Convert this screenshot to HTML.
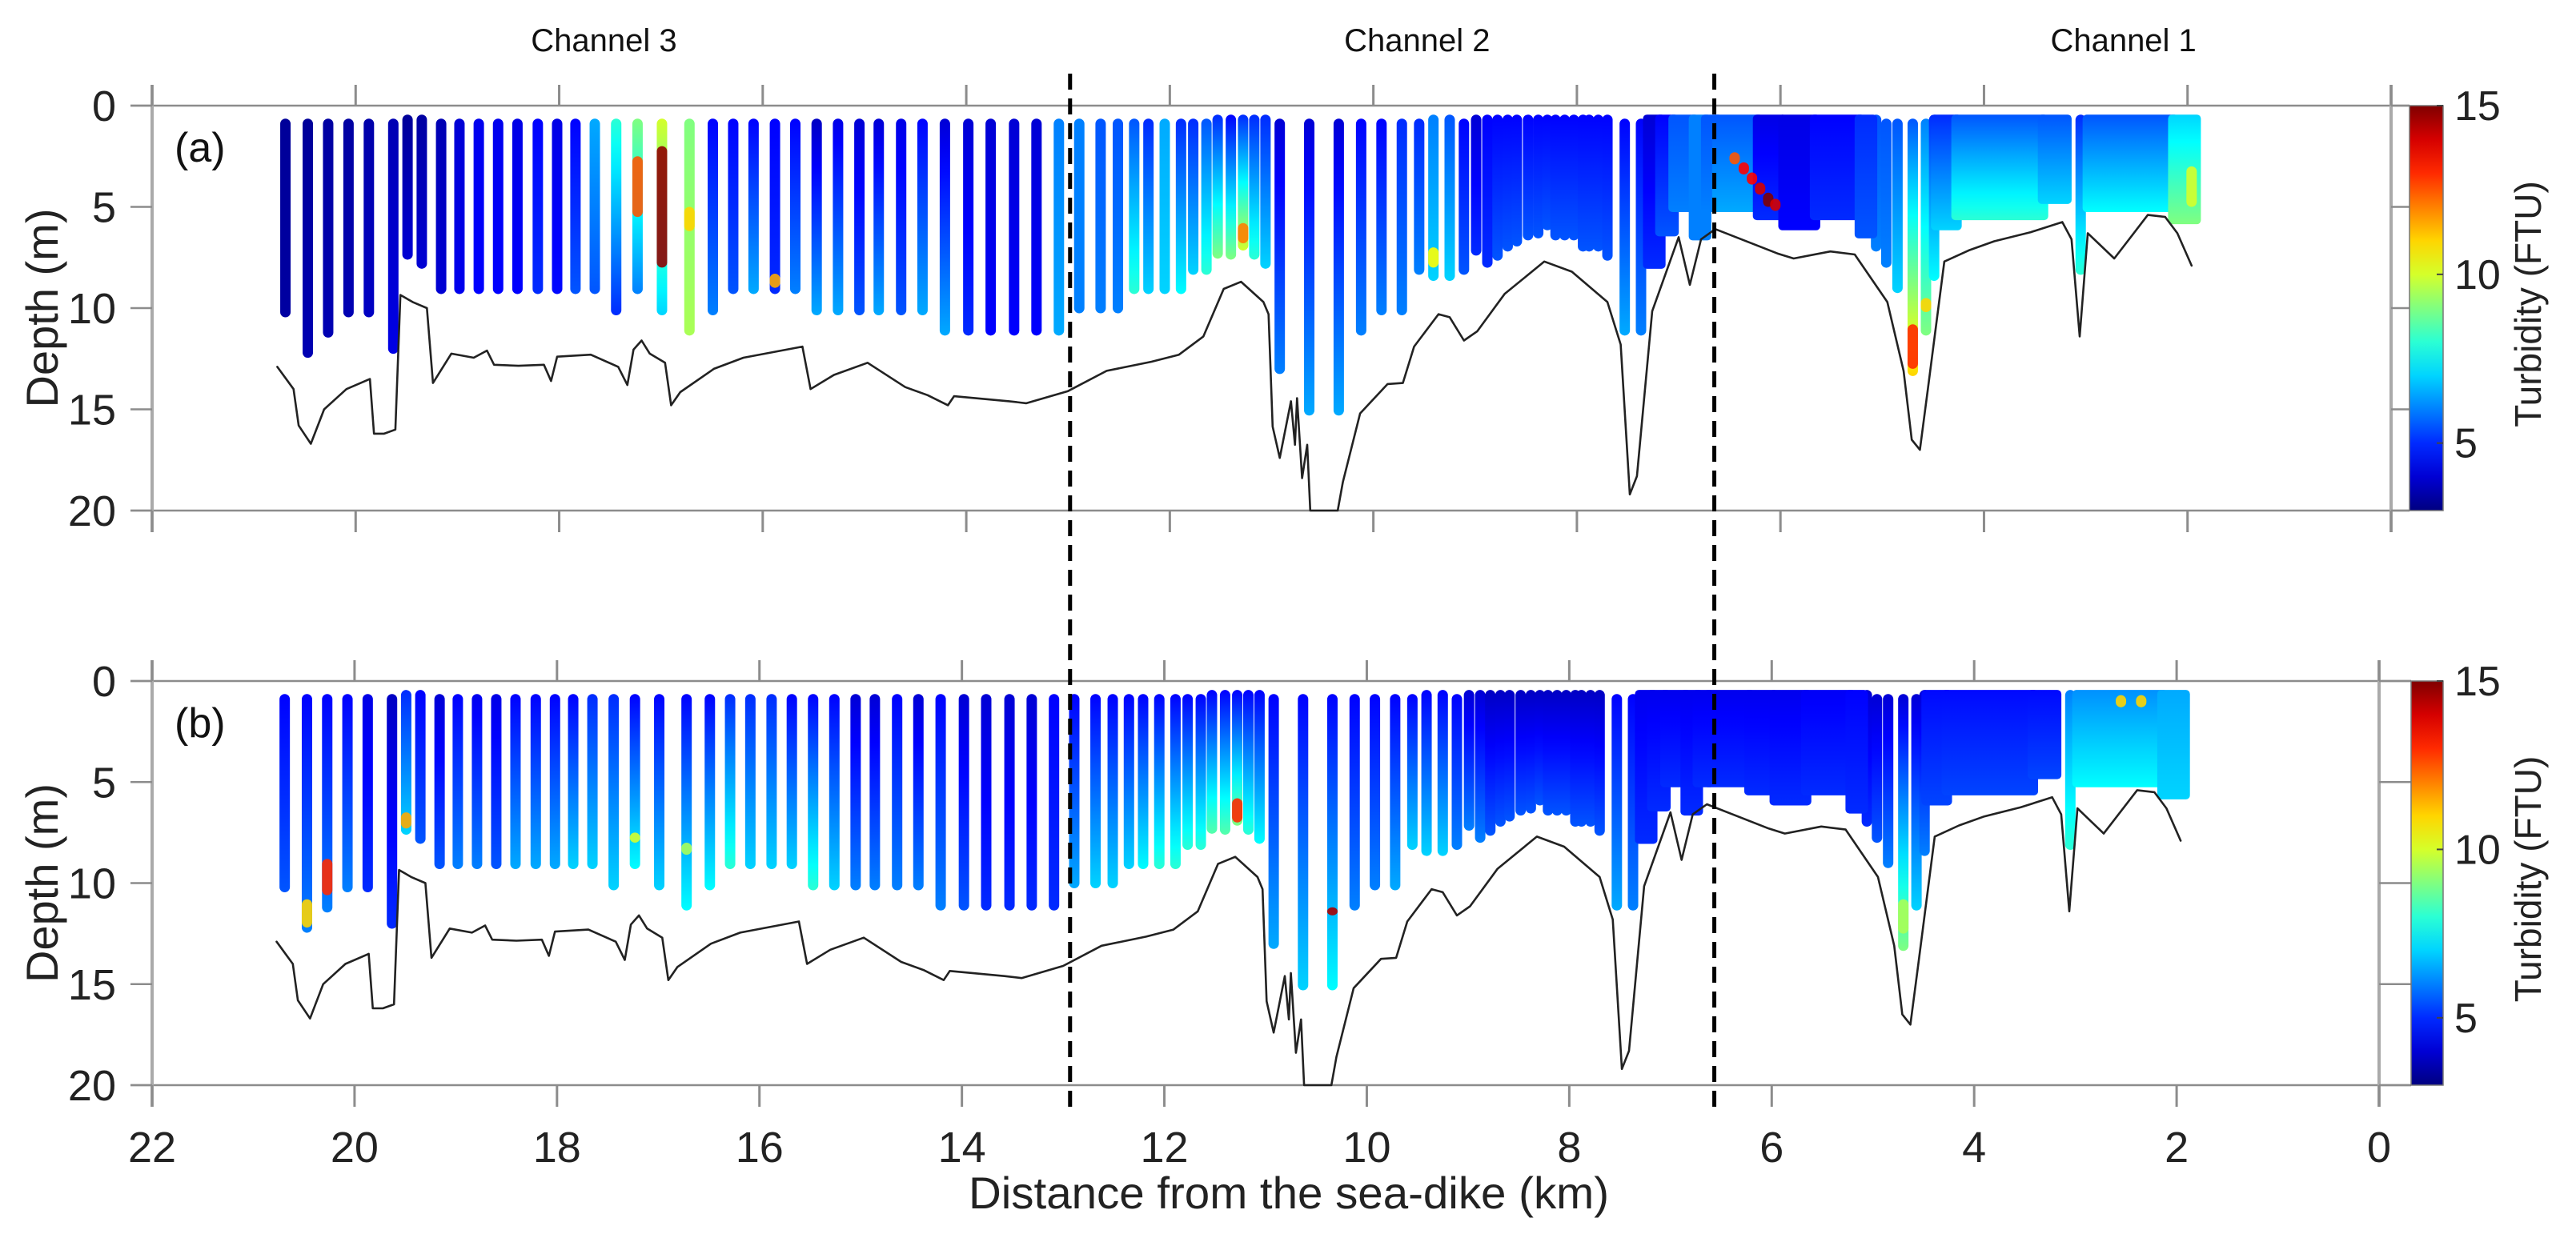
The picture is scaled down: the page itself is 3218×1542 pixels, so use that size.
<!DOCTYPE html>
<html><head><meta charset="utf-8"><style>
html,body{margin:0;padding:0;background:#fff;}
svg{display:block;font-family:"Liberation Sans",Arial,sans-serif;}
</style></head><body>
<svg id="fig" width="3218" height="1542" viewBox="0 0 3218 1542" xmlns="http://www.w3.org/2000/svg">
<defs id="defs"></defs>
<g id="root"></g>
</svg>
<script>
// ---------- DATA ----------
const colKm  = [20.69,20.47,20.27,20.07,19.87,19.63,19.49,19.35,19.16,18.98,18.79,18.60,18.41,18.21,18.02,17.84,17.65,17.44,17.23,16.99,16.72,16.49,16.29,16.09,15.88,15.68,15.47,15.26,15.05,14.86,14.64,14.43,14.21,13.98,13.76,13.53,13.31,13.09,
 12.89,12.68,12.51,12.35,12.21,12.05,11.89,11.77,11.64,11.53,11.40,11.28,11.17,11.06,10.92,10.63,10.34,10.12,9.92,9.72,9.55,9.41,9.25,9.11,8.99,8.88,8.78,8.68,8.59,8.48,8.38,8.29,8.21,8.12,8.03,7.94,7.88,7.79,7.70,7.53,7.37,
 5.06,4.96,4.85,4.70,4.57,4.49,3.05];
const colTop = [0.9,0.9,0.9,0.9,0.9,0.9,0.7,0.7,0.9,0.9,0.9,0.9,0.9,0.9,0.9,0.9,0.9,0.9,0.9,0.9,0.9,0.9,0.9,0.9,0.9,0.9,0.9,0.9,0.9,0.9,0.9,0.9,0.9,0.9,0.9,0.9,0.9,0.9,
 0.9,0.9,0.9,0.9,0.9,0.9,0.9,0.9,0.9,0.7,0.7,0.7,0.7,0.7,0.9,0.9,0.9,0.9,0.9,0.9,0.9,0.7,0.7,0.9,0.7,0.7,0.7,0.7,0.7,0.7,0.7,0.7,0.7,0.7,0.7,0.7,0.7,0.7,0.7,0.9,0.9,
 0.7,0.9,0.9,0.9,0.9,0.7,0.7];
const colBot = [10.2,12.2,11.2,10.2,10.2,12.0,7.35,7.8,9.05,9.05,9.05,9.05,9.05,9.05,9.05,9.05,9.05,10.1,9.05,10.1,11.1,10.1,9.05,9.05,9.05,9.05,10.1,10.1,10.1,10.1,10.1,10.1,11.1,11.1,11.1,11.1,11.1,11.1,
 10.0,10.0,10.0,9.05,9.05,9.05,9.05,8.1,8.1,7.3,7.35,6.9,7.35,7.8,13.0,15.05,15.05,11.1,10.1,10.1,8.1,8.4,8.4,8.1,7.15,7.75,7.4,6.95,6.7,6.4,6.3,5.9,6.4,6.4,6.4,6.95,6.95,6.95,7.4,11.1,11.1,
 6.95,7.75,9.0,13.1,11.1,8.4,8.1];
const turbATop = [3.3,3.3,3.4,3.4,3.5,3.6,3.3,3.4,3.6,4.0,4.3,4.3,4.2,4.5,4.2,4.5,6.5,8,9,10,9,4.5,4.5,4.5,4.5,4.5,3.8,4.2,4.0,4.0,4.2,4.5,4.0,4.0,4.0,4.0,4.0,6.0,
 6,5.5,5.5,5.5,5,6.5,5,5,5.5,5,4.5,5,5,5,4,4,4,4.5,4.5,5,5,6,5.5,4.5,4,4.5,4.5,4.5,4.5,4.5,4.5,4.5,4.5,4.5,4.5,4.5,4.5,4.5,4.5,4.5,4.5,
 5.5,5.5,5.5,5.5,6,5,5];
const turbABot = [3.4,3.6,3.6,3.6,3.8,4.2,4.0,4.0,4.0,4.3,4.5,4.5,4.5,5.0,4.6,5.5,5.5,5,6,7,9.5,6,5.5,6.5,5,6,6.5,6.5,5.5,6.5,5.5,6.5,6.5,5,4.5,4.5,4.5,6.5,
 6,6,6,8,7,7,7.5,7,8,9,9,10,8,7,6,6.5,6.5,6,6,6,6,7,7,5.5,5,5,5.5,5.5,5.5,5.5,5.5,5.5,5.5,5.5,5.5,5.5,5.5,5.5,5.5,6.5,6,
 6,6,7,11,9,7.5,8];
const turbBTop = [4.5,4.5,4.5,4.5,4.2,3.8,5,4.5,4,4.5,4.3,4.2,4.5,4.5,4.5,4.5,5,5,4.5,4.5,4.5,4.5,5,5,5,4.5,4.5,4.5,4,4,4.5,4,4.5,4,4,4,4,4.5,
 4.5,4.5,4.5,4.5,4.5,4.5,4.5,4.5,4.5,4.5,4.5,4.5,4.5,4.5,4.5,4.5,4.5,4.5,4.5,4.5,4.5,4.5,4.5,4.5,4,4,3.8,3.8,3.8,3.8,3.8,3.8,3.8,3.8,3.8,3.8,3.8,3.8,3.8,4.5,4.5,
 4,4,4,4,4,4,6];
const turbBBot = [5.5,6,6,6,5,5,7,5.5,5.5,6,6,5.5,6.5,6.5,6.5,7,7,7,7.5,7,7.5,7.5,8,7,7,7,8,7,6,6,6,6,6,5.5,5,5,5,5,
 6.5,7,7,7,7.5,8,8,8,8,8.5,8.5,9,8,7.5,6.5,7,7.5,6,6,6.5,7,7,7,6,6,6,5.5,5.5,5.5,5.5,5.5,5.5,5.5,5.5,5.5,5.5,5.5,5.5,5.5,6.5,6,
 5,5.5,6,9,7,6,8];
const blkStart = [7.30,7.18,7.05,6.85,6.73,6.62,6.22,5.97,5.66,5.22,4.47,4.27,3.42,2.98,2.14];
const blkEnd   = [7.18,7.05,6.85,6.73,6.62,6.22,5.99,5.66,5.22,5.10,4.27,3.42,3.19,2.14,1.92];
const blkBot   = [7.8,6.2,5.0,6.4,5.0,5.0,5.4,5.9,5.4,6.3,5.9,5.4,4.6,5.0,5.6];
const blkATop  = [4,4.5,5.5,6,5.5,5.5,4.2,4.2,4.5,5,5,5.5,5.5,5.5,7];
const blkABot  = [5,5.5,6,6,6,6.5,5,4.5,5,5.5,7,8,7,7.5,9];
const blkBTop  = [4.3,4.3,4.3,4.3,4.3,4.3,4.3,4.3,4.4,4.5,4.6,4.6,4.6,6.2,6.5];
const blkBBot  = [5.0,5.0,5.0,5.0,5.0,5.0,5.0,5.0,5.0,5.0,5.3,5.3,5.3,7.5,7];
const hotAKm = [17.23,16.99,16.72,15.88,11.28,9.41,4.70,1.96,6.45,6.36,6.28,6.20,6.12,6.05,4.57];
const hotAD1 = [2.5,2.0,5.0,8.3,5.8,7.0,10.8,3.0,2.3,2.8,3.3,3.8,4.3,4.6,9.5];
const hotAD2 = [5.5,8.0,6.2,9.0,6.8,8.0,13.0,5.0,2.9,3.4,3.9,4.4,5.0,5.2,10.2];
const hotAV  = [12.5,14.8,11,11.5,12,10.5,13,10,12.5,13.5,13.5,14,15,14,11];
const hotBKm = [20.47,20.27,19.49,11.28,10.34,4.70,2.55,2.35,17.23,16.72];
const hotBD1 = [10.8,8.8,6.5,5.8,11.2,10.8,0.7,0.7,7.5,8.0];
const hotBD2 = [12.2,10.6,7.3,7.0,11.6,12.5,1.3,1.3,8.0,8.6];
const hotBV  = [11,13,11.5,13,14.5,9.5,11,11,10,9.5];
const bathKm = [20.77,20.61,20.56,20.44,20.31,20.09,19.86,19.82,19.72,19.61,19.56,19.44,19.3,19.24,19.06,18.84,18.71,18.64,18.4,18.15,18.08,18.02,17.69,17.42,17.33,17.27,17.19,17.11,16.96,16.9,16.81,16.48,16.19,15.61,15.53,15.3,14.97,14.6,14.38,14.18,14.12,13.58,13.41,13.0,12.62,12.18,11.91,11.67,11.47,11.3,11.08,11.03,10.99,10.92,10.81,10.77,10.75,10.7,10.65,10.62,10.35,10.3,10.13,9.86,9.71,9.6,9.36,9.25,9.11,8.98,8.71,8.32,8.05,7.7,7.57,7.48,7.41,7.26,7.0,6.89,6.78,6.64,6.03,5.87,5.51,5.27,4.95,4.79,4.71,4.63,4.55,4.39,4.15,3.9,3.54,3.23,3.14,3.06,2.98,2.72,2.39,2.22,2.1,1.96];
const bathD  = [12.9,14.0,15.8,16.7,15.0,14.0,13.5,16.2,16.2,16.0,9.35,9.7,10.0,13.7,12.25,12.45,12.1,12.8,12.85,12.8,13.6,12.4,12.3,12.9,13.8,12.05,11.6,12.25,12.7,14.8,14.15,13.0,12.45,11.9,14.0,13.3,12.7,13.9,14.3,14.8,14.35,14.6,14.7,14.1,13.1,12.65,12.3,11.4,9.05,8.7,9.7,10.3,15.85,17.4,14.6,16.75,14.45,18.4,16.75,20.0,20.0,18.6,15.2,13.75,13.7,11.9,10.3,10.45,11.6,11.15,9.3,7.7,8.2,9.7,11.8,19.2,18.3,10.15,6.5,8.85,6.6,6.1,7.3,7.55,7.2,7.35,9.7,13.1,16.5,17.0,13.95,7.7,7.15,6.7,6.25,5.75,6.6,11.4,6.3,7.55,5.4,5.5,6.3,7.9];
const xTicks = [22,20,18,16,14,12,10,8,6,4,2,0];
const yTicks = [0,5,10,15,20];
const cTicks = [5,10,15];
const channelNames = ["Channel 3","Channel 2","Channel 1"];
const channelKm = [17.56,9.57,2.63];
const dividerKm = [12.98,6.65];

// ---------- LAYOUT ----------
const panels = [
 {id:'a', label:'(a)', x0:190, x1:2987, y0:132, y1:638, cbx:3010, cbw:42, top:turbATop, bot:turbABot, btop:blkATop, bbot:blkABot, hk:hotAKm, h1:hotAD1, h2:hotAD2, hv:hotAV},
 {id:'b', label:'(b)', x0:190, x1:2972, y0:851, y1:1356, cbx:3012, cbw:40, top:turbBTop, bot:turbBBot, btop:blkBTop, bbot:blkBBot, hk:hotBKm, h1:hotBD1, h2:hotBD2, hv:hotBV}
];
const CMIN=3, CMAX=15;
const NS='http://www.w3.org/2000/svg';
const root=document.getElementById('root');
const defs=document.getElementById('defs');
function el(tag,attrs,parent){const e=document.createElementNS(NS,tag);for(const k in attrs)e.setAttribute(k,attrs[k]);(parent||root).appendChild(e);return e;}
function jet(v){let t=(v-CMIN)/(CMAX-CMIN);t=Math.max(0,Math.min(1,t));
 const r=Math.max(0,Math.min(1,1.5-Math.abs(4*t-3))),g=Math.max(0,Math.min(1,1.5-Math.abs(4*t-2))),b=Math.max(0,Math.min(1,1.5-Math.abs(4*t-1)));
 return `rgb(${Math.round(r*255)},${Math.round(g*255)},${Math.round(b*255)})`;}
let gid=0;
function grad(v1,v2,n){n=n||8;const id='g'+(gid++);const g=el('linearGradient',{id:id,x1:0,y1:0,x2:0,y2:1},defs);
 for(let i=0;i<=n;i++){el('stop',{offset:i/n,'stop-color':jet(v1+(v2-v1)*i/n)},g);}return 'url(#'+id+')';}

panels.forEach(p=>{
 const xs=k=>p.x0+(22-k)*(p.x1-p.x0)/22;
 const ys=d=>p.y0+d*(p.y1-p.y0)/20;
 const g=el('g',{});
 
 
 const fr=el('g',{stroke:'#8c8c8c','stroke-width':2.5},g);
 
 
 el('line',{x1:163,y1:p.y0,x2:p.cbx,y2:p.y0},fr);
 el('line',{x1:163,y1:p.y1,x2:p.cbx,y2:p.y1},fr);
 el('line',{x1:p.x0,y1:p.y0-26,x2:p.x0,y2:p.y1+27,'stroke-width':4,stroke:'#aaa'},fr);
 el('line',{x1:p.x1,y1:p.y0-26,x2:p.x1,y2:p.y1+27,'stroke-width':4,stroke:'#aaa'},fr);
 xTicks.forEach(k=>{const x=xs(k);
  el('line',{x1:x,y1:p.y0-26,x2:x,y2:p.y0,'stroke-width':3},fr);
  el('line',{x1:x,y1:p.y1,x2:x,y2:p.y1+27,'stroke-width':3},fr);});
 yTicks.forEach(d=>{const y=ys(d);
  el('line',{x1:163,y1:y,x2:p.x0,y2:y},fr);
  el('line',{x1:p.x1,y1:y,x2:p.cbx,y2:y},fr);
  const t=el('text',{x:145,y:y+19,'text-anchor':'end','font-size':54,fill:'#222'},g);
  t.textContent=d;
  
  });
 const yt=el('text',{x:0,y:0,transform:`translate(72,${(p.y0+p.y1)/2}) rotate(-90)`,'text-anchor':'middle','font-size':56,fill:'#222'},g);
 yt.textContent='Depth (m)';
 
 
 const pl=el('text',{x:218,y:p.y0+70,'font-size':52,fill:'#111'},g);
 pl.textContent=p.label;
 
 
 const cg=el('g',{},g);
 
 
 const W=13;
 colKm.forEach((k,i)=>{
  const r=el('rect',{x:xs(k)-W/2,y:ys(colTop[i])-W/2,width:W,height:ys(colBot[i])-ys(colTop[i])+W,rx:W/2,fill:grad(p.top[i],p.bot[i])},cg);
  
  });
 blkStart.forEach((k,i)=>{
  const xa=xs(k),xb=xs(blkEnd[i]);
  const r=el('rect',{x:xa-W/2,y:ys(0.7)-W/2,width:xb-xa+W,height:ys(blkBot[i])-ys(0.7)+W,rx:5,fill:grad(p.btop[i],p.bbot[i])},cg);
  
  });
 p.hk.forEach((k,i)=>{
  const r=el('rect',{x:xs(k)-W/2,y:ys(p.h1[i]),width:W,height:ys(p.h2[i])-ys(p.h1[i]),rx:W/2,fill:jet(p.hv[i]),opacity:0.9},cg);
  
  });
 let dpath=bathKm.map((k,i)=>(i?'L':'M')+xs(k).toFixed(1)+','+ys(Math.min(bathD[i],20)).toFixed(1)).join(' ');
 const bl=el('path',{d:dpath,fill:'none',stroke:'#222','stroke-width':2.6,'stroke-linejoin':'round','stroke-linecap':'round'},g);
 
 
 const cb=el('rect',{x:p.cbx,y:p.y0,width:p.cbw,height:p.y1-p.y0,fill:grad(CMAX,CMIN,12),stroke:'#777','stroke-width':1.5},g);
 
 
 const cy=v=>p.y1-(v-CMIN)/(CMAX-CMIN)*(p.y1-p.y0);
 cTicks.forEach(v=>{
  el('line',{x1:p.cbx+p.cbw-8,y1:cy(v),x2:p.cbx+p.cbw,y2:cy(v),stroke:'#444','stroke-width':2},g);
  const t=el('text',{x:3066,y:cy(v)+18,'font-size':52,fill:'#222'},g);
  t.textContent=v;
  
  });
 const ct=el('text',{x:0,y:0,transform:`translate(3174,${(p.y0+p.y1)/2-5}) rotate(-90)`,'text-anchor':'middle','font-size':46,fill:'#222'},g);
 ct.textContent='Turbidity (FTU)';
 
 
});

const xa=k=>190+(22-k)*(2987-190)/22;
channelNames.forEach((n,i)=>{
 const t=el('text',{x:xa(channelKm[i]),y:64,'text-anchor':'middle','font-size':40,fill:'#111'});
 t.textContent=n;
 
 });
dividerKm.forEach(k=>{
 const l=el('line',{x1:xa(k),y1:92,x2:xa(k),y2:1392,stroke:'#000','stroke-width':5,'stroke-dasharray':'20,11'});
 
 });
const xb=k=>190+(22-k)*(2972-190)/22;
xTicks.forEach(k=>{
 const t=el('text',{x:xb(k),y:1452,'text-anchor':'middle','font-size':54,fill:'#222'});
 t.textContent=k;
 
 });
const xt=el('text',{x:1610,y:1510,'text-anchor':'middle','font-size':56,fill:'#222',textLength:800,lengthAdjust:'spacingAndGlyphs'});
xt.textContent='Distance from the sea-dike (km)';


</script>
</body></html>
